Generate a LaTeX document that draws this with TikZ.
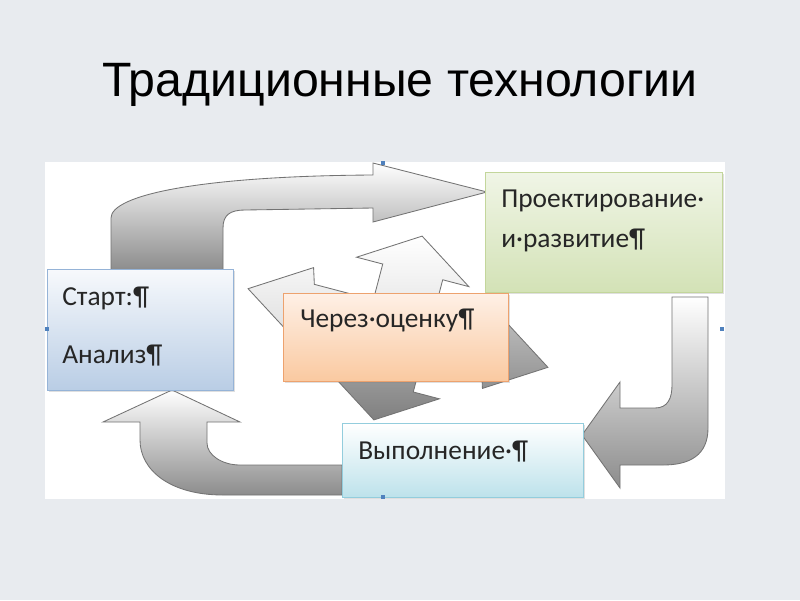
\documentclass[tikz,border=0pt]{standalone}
\usepackage{fontspec}
\setmainfont{Carlito}
\newfontfamily\titlefont{Liberation Sans}
\usetikzlibrary{shadows}

\definecolor{slidebg}{HTML}{E8EBEF}
\definecolor{handleblue}{HTML}{4F81BD}
\definecolor{startline}{HTML}{95B3D7}
\definecolor{starttop}{HTML}{F7F9FC}
\definecolor{startbot}{HTML}{B9CDE5}
\definecolor{designline}{HTML}{C3D69B}
\definecolor{designtop}{HTML}{F0F5E6}
\definecolor{designbot}{HTML}{D3E2B6}
\definecolor{evalline}{HTML}{EDA26E}
\definecolor{evaltop}{HTML}{FEF0E6}
\definecolor{evalbot}{HTML}{FAC9A0}
\definecolor{execline}{HTML}{93CDDD}
\definecolor{exectop}{HTML}{FFFFFF}
\definecolor{execbot}{HTML}{BDE2EB}

\tikzset{
  box/.style={draw, line width=0.6pt, anchor=north west, inner sep=0pt,
    drop shadow={opacity=0.25, shadow xshift=1.2pt, shadow yshift=-1.2pt}},
  boxtext/.style={anchor=base west, inner sep=0pt, text=black!85,
    font=\fontsize{19.5}{22}\selectfont},
  blockarrow/.style={draw=black!55, line width=0.6pt, top color=white, bottom color=black!45},
  handle/.style={fill=handleblue, minimum size=3pt, inner sep=0pt}
}

\begin{document}
\begin{tikzpicture}[x=0.025cm, y=-0.025cm]
  \useasboundingbox (0,0) rectangle (800,600);
  \fill[slidebg] (0,0) rectangle (800,600);

  % title
  \node[anchor=base, inner sep=0pt, font=\titlefont\fontsize{34.3}{40}\selectfont]
    (title) at (400,96) {Традиционные технологии};

  % white panel
  \fill[white] (45,162) rectangle (725,499);

  % swap arrows behind the middle box
  \begin{scope}[shift={(398,328)}, rotate=-14.7]
    \draw[draw=black!55, line width=0.6pt, top color=white, bottom color=black!15]
      (-155,0) -- (-97,-37) -- (-92,-21) -- (-31,-21) -- (-31,-58) -- (-58,-58)
      -- (0,-95) -- (58,-58) -- (31,-58) -- (31,21) -- (-92,21) -- (-97,37) -- cycle;
    \draw[draw=black!55, line width=0.6pt, top color=black!22, bottom color=black!50]
      (155,0) -- (97,37) -- (92,21) -- (31,21) -- (31,58) -- (58,58)
      -- (0,95) -- (-58,58) -- (-31,58) -- (-31,-21) -- (92,-21) -- (97,-37) -- cycle;
  \end{scope}

  % start -> design
  \draw[blockarrow] (111,270) -- (111,218)
    .. controls (111,195) and (200,176) .. (373,175)
    -- (373,163) -- (487,192) -- (373,222) -- (373,208) -- (245,210)
    .. controls (230,210) and (223,215) .. (223,228) -- (223,270) -- cycle;

  % design -> execution
  \draw[blockarrow] (672,297) -- (708,297) -- (708,428)
    .. controls (708,455) and (690,465) .. (663,465)
    -- (620,465) -- (620,488) -- (582,435) -- (620,382) -- (620,408) -- (655,408)
    .. controls (668,408) and (672,398) .. (672,385) -- cycle;

  % execution -> start
  \draw[blockarrow] (342,495) -- (223,495)
    .. controls (170,495) and (140,470) .. (140,440)
    -- (140,422) -- (103,422) -- (172,390) -- (240,422) -- (207,422) -- (207,443)
    .. controls (207,455) and (222,465) .. (240,465) -- (342,465) -- cycle;

  % boxes
  \node[box, draw=startline, top color=starttop, bottom color=startbot,
    minimum width=4.65cm, minimum height=3.025cm] (start) at (47,269) {};
  \node[box, draw=designline, top color=designtop, bottom color=designbot,
    minimum width=5.925cm, minimum height=3cm] (design) at (485,172) {};
  \node[box, draw=evalline, top color=evaltop, bottom color=evalbot,
    minimum width=5.625cm, minimum height=2.2cm] (eval) at (283,293) {};
  \node[box, draw=execline, top color=exectop, bottom color=execbot,
    minimum width=6.025cm, minimum height=1.85cm] (exec) at (342,423) {};

  \node[boxtext] (startA) at (62,305) {Старт:¶};
  \node[boxtext] (startB) at (62,363) {Анализ¶};
  \node[boxtext] (designA) at (501,207) {Проектирование·};
  \node[boxtext] (designB) at (501,247) {и·развитие¶};
  \node[boxtext] (evalA) at (300,327) {Через·оценку¶};
  \node[boxtext] (execA) at (358,459) {Выполнение·¶};

  % selection handles
  \foreach \hx/\hy [count=\i] in {47/329, 722/329, 383/163, 383/497}
    \node[handle] (h\i) at (\hx,\hy) {};
\end{tikzpicture}
\end{document}
